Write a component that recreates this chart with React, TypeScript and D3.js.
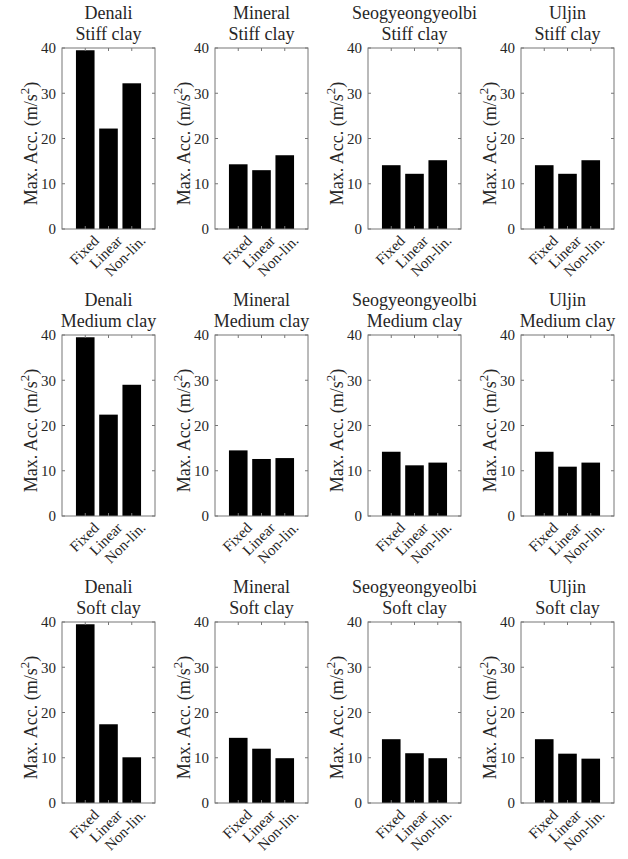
import * as d3 from 'd3';

// sites across, soil types down
const sites = ['Denali', 'Mineral', 'Seogyeongyeolbi', 'Uljin'];
const soils = ['Stiff clay', 'Medium clay', 'Soft clay'];
const models = ['Fixed', 'Linear', 'Non-lin.'];
const yTicks = [0, 10, 20, 30, 40];

// max acceleration per site: [Fixed, Linear, Non-lin.]
const stiffClay = [
  [39.5, 22.2, 32.2],
  [14.3, 13.0, 16.3],
  [14.1, 12.2, 15.2],
  [14.1, 12.2, 15.2],
];
const mediumClay = [
  [39.5, 22.4, 29.0],
  [14.5, 12.6, 12.8],
  [14.2, 11.2, 11.8],
  [14.2, 10.9, 11.8],
];
const softClay = [
  [39.5, 17.4, 10.1],
  [14.4, 12.0, 9.9],
  [14.1, 11.0, 9.9],
  [14.1, 10.9, 9.8],
];
const rows = [stiffClay, mediumClay, softClay];

const W = 628;
const H = 859;
const pw = 93;
const ph = 181;
const colX = d3.scaleLinear().domain([0, 1]).range([62, 215]);
const rowY = d3.scaleLinear().domain([0, 1]).range([48, 335]);

const axisColor = '#262626';
const boxColor = '#777';
const font = 'Liberation Serif';

function Panel({ site, soil, values, left, top }: { site: string; soil: string; values: number[]; left: number; top: number }) {
  const x = d3.scaleLinear().domain([0, 4]).range([0, pw]);
  const y = d3.scaleLinear().domain([0, 40]).range([ph, 0]);
  const bw = x(0.8) - x(0);
  const tick = 3;
  return (
    <g transform={`translate(${left},${top})`} fontFamily={font}>
      {values.map((v, i) => (
        <rect key={i} x={x(i + 1) - bw / 2} y={y(v)} width={bw} height={y(0) - y(v)} fill="#000" />
      ))}
      {yTicks.map(t => (
        <g key={t}>
          <line x1={0} x2={tick} y1={y(t)} y2={y(t)} stroke={boxColor} />
          <line x1={pw} x2={pw - tick} y1={y(t)} y2={y(t)} stroke={boxColor} />
          <text x={-6} y={y(t)} dy="0.35em" textAnchor="end" fontSize={15} fill={axisColor} fontFamily={font}>{t}</text>
        </g>
      ))}
      {models.map((m, i) => (
        <g key={m}>
          <line x1={x(i + 1)} x2={x(i + 1)} y1={0} y2={tick} stroke={boxColor} />
          <line x1={x(i + 1)} x2={x(i + 1)} y1={ph} y2={ph - tick} stroke={boxColor} />
          <text
            transform={`translate(${x(i + 1) + 7},${ph + 5}) rotate(-45)`}
            dy="0.72em"
            textAnchor="end"
            fontSize={15}
            fill={axisColor}
            fontFamily={font}
          >{m}</text>
        </g>
      ))}
      <rect x={0} y={0} width={pw} height={ph} fill="none" stroke={boxColor} strokeWidth={1} />
      <text transform={`translate(-25,${ph / 2 + 5}) rotate(-90)`} textAnchor="middle" fontSize={18} fill={axisColor} fontFamily={font}>
        Max. Acc. (m/s<tspan dy={-8} fontSize={13}>2</tspan><tspan dy={8}>)</tspan>
      </text>
      <text x={pw / 2} y={-29} textAnchor="middle" fontSize={18} fill={axisColor} fontFamily={font}>{site}</text>
      <text x={pw / 2} y={-8} textAnchor="middle" fontSize={18} fill={axisColor} fontFamily={font}>{soil}</text>
    </g>
  );
}

export default function App() {
  return (
    <svg
      width={W}
      height={H}
      style={{ position: 'absolute', left: 0, top: 0, background: '#fff' }}
    >
      <rect width={W} height={H} fill="#fff" />
      {rows.map((row, r) =>
        sites.map((site, c) => (
          <Panel key={`${r}-${c}`} site={site} soil={soils[r]} values={row[c]} left={colX(c)} top={rowY(r)} />
        ))
      )}
    </svg>
  );
}
